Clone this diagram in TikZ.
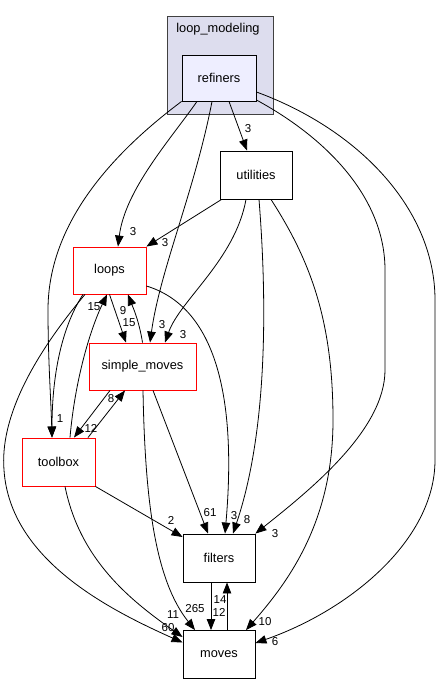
\documentclass[tikz,border=0pt]{standalone}
\usepackage{fontspec}
\setmainfont{Liberation Sans}
\usetikzlibrary{arrows.meta}
\definecolor{clfill}{HTML}{DDDDEE}
\definecolor{reffill}{HTML}{EEEEFF}
\begin{document}
\begin{tikzpicture}[x=1pt,y=-1pt,>={Triangle[length=11pt,width=8.5pt]},
    dirbox/.style={draw,fill=white,line width=0.9pt,minimum width=#1,minimum height=47pt,inner sep=0pt,
      font=\fontsize{12.8}{15}\selectfont},
    redbox/.style={dirbox=#1,draw=red},
    lbl/.style={inner sep=0pt,font=\fontsize{11.5}{13}\selectfont},
    dep/.style={->,line width=0.8pt}]
    \useasboundingbox[fill=white] (0,0) rectangle (441,684);
    \node[draw=black!75,fill=clfill,line width=0.9pt,minimum width=106pt,minimum height=98pt] (loopmod) at (220,65) {};
    \node[font=\fontsize{12.8}{15}\selectfont] (loopmodtxt) at (218,29) {loop\_modeling};
    \node[dirbox=74pt,fill=reffill,minimum height=46pt] (refiners) at (219,78) {refiners};
    \node[dirbox=72pt,minimum height=48pt] (utilities) at (256,175) {utilities};
    \node[redbox=73pt] (loops) at (109.5,270.5) {loops};
    \node[redbox=107pt] (simple) at (142.5,366.5) {simple\_moves};
    \node[redbox=73pt,minimum height=48pt] (toolbox) at (58.5,462) {toolbox};
    \node[dirbox=72pt,minimum height=48pt] (filters) at (219,558) {filters};
    \node[dirbox=72pt,minimum height=48pt] (moves) at (219,654.5) {moves};

    \draw[dep] ([xshift=10pt]refiners.south) -- ([xshift=-9pt]utilities.north);
    \draw[dep] ([xshift=-22pt]refiners.south) .. controls (170,140) and (125,190) .. ([xshift=8.5pt]loops.north);
    \draw[dep] (refiners.south west) .. controls (90,170) and (48,240) .. (48,310)
      .. controls (48,360) and (51,400) .. ([xshift=-6.5pt]toolbox.north);
    \draw[dep] ([xshift=-7pt]refiners.south) .. controls (195,190) and (160,270) .. ([xshift=7.5pt]simple.north);
    \draw[dep] ([yshift=-22pt]refiners.east) .. controls (330,140) and (385,200) .. (385,270) -- (385,370)
      .. controls (385,430) and (310,490) .. (filters.north east);
    \draw[dep] ([yshift=-14pt]refiners.east) .. controls (360,130) and (435,210) .. (435,300) -- (435,460)
      .. controls (435,540) and (350,610) .. ([yshift=11.5pt]moves.east);
    \draw[dep] ([xshift=2pt]utilities.south west) -- (loops.north east);
    \draw[dep] ([xshift=-10pt]utilities.south) .. controls (235,260) and (180,300) .. ([xshift=22.5pt]simple.north);
    \draw[dep] ([xshift=3pt]utilities.south) .. controls (267,300) and (268,430) .. ([xshift=14pt]filters.north);
    \draw[dep] ([xshift=15pt]utilities.south) .. controls (310,260) and (333,320) .. (333,420)
      .. controls (333,520) and (290,580) .. ([xshift=27pt]moves.north);
    \draw[dep] ([yshift=-15.5pt]loops.east) .. controls (225,310) and (235,420) .. ([xshift=6pt]filters.north);
    \draw[dep] (loops.south) -- ([xshift=-16.5pt]simple.north);
    \draw[dep] (simple.north) .. controls (139,320) and (132,305) .. ([xshift=18.5pt]loops.south);
    \draw[dep] ([xshift=-26.5pt]loops.south) .. controls (60,330) and (52,380) .. ([xshift=-6.5pt]toolbox.north);
    \draw[dep] ([xshift=11.5pt]toolbox.north) .. controls (75,380) and (90,330) .. ([xshift=-2.5pt]loops.south);
    \draw[dep] ([xshift=-24.5pt]loops.south) .. controls (30,360) and (0,420) .. (4,470)
      .. controls (10,560) and (110,610) .. ([yshift=12pt]moves.west);
    \draw[dep] ([xshift=6.5pt]toolbox.south) .. controls (80,560) and (130,600) .. ([yshift=17.5pt]moves.west);
    \draw[dep] (toolbox.south east) -- ([yshift=21pt]filters.west);
    \draw[dep] ([xshift=29.5pt]toolbox.north) -- ([xshift=-17.5pt]simple.south);
    \draw[dep] ([xshift=-32.5pt]simple.south) -- ([xshift=15.5pt]toolbox.north);
    \draw[dep] ([xshift=10.5pt]simple.south) -- ([xshift=-11pt]filters.north);
    \draw[dep] ([xshift=0.5pt]simple.south) .. controls (145,500) and (155,580) .. ([xshift=-24pt]moves.north);
    \draw[dep] ([xshift=-8pt]filters.south) -- ([xshift=-8pt]moves.north);
    \draw[dep] ([xshift=8pt]moves.north) -- ([xshift=8pt]filters.south);

    \node[lbl] (lrefutil) at (248,129) {3};
    \node[lbl] (lrefloops) at (133,232) {3};
    \node[lbl] (lutilloops) at (165,243) {3};
    \node[lbl] (lrefsimple) at (162,325) {3};
    \node[lbl] (lutilsimple) at (183,335) {3};
    \node[lbl] (lsimpleloops) at (123,311) {9};
    \node[lbl] (lloopssimple) at (129,323) {15};
    \node[lbl] (ltoolloops) at (94,307) {15};
    \node[lbl] (lreftool) at (60,419) {1};
    \node[lbl] (ltoolsimple) at (111,399) {8};
    \node[lbl] (lsimpletool) at (91,428) {12};
    \node[lbl] (ltoolfilt) at (171,520) {2};
    \node[lbl] (lsimplefilt) at (210,513) {61};
    \node[lbl] (lloopsfilt) at (234,516) {3};
    \node[lbl] (lutilfilt) at (247,520) {8};
    \node[lbl] (lreffilt) at (275,534) {3};
    \node[lbl] (lsimplemoves) at (195,609) {265};
    \node[lbl] (lmovesfilt) at (220,600) {14};
    \node[lbl] (lfiltmoves) at (219,612) {12};
    \node[lbl] (ltoolmoves) at (173,615) {11};
    \node[lbl] (lloopsmoves) at (168,628) {60};
    \node[lbl] (lutilmoves) at (265,622) {10};
    \node[lbl] (lrefmoves) at (275,642) {6};
  \end{tikzpicture}
\end{document}
